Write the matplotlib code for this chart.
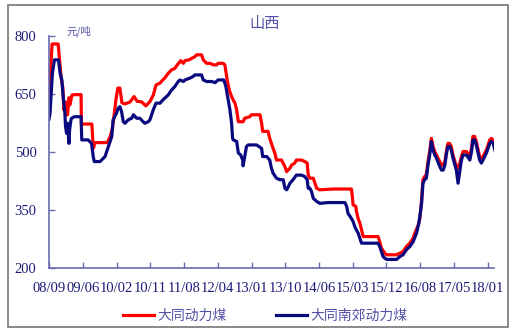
import matplotlib
matplotlib.use("Agg")
import matplotlib.pyplot as plt
from matplotlib.patches import Rectangle

# x 轴按刻度序号计（每个刻度间隔相同）
tick_labels = ["08/09", "09/06", "10/02", "10/11", "11/08", "12/04", "13/01",
               "13/10", "14/06", "15/03", "15/12", "16/08", "17/05", "18/01"]

datong_x = [0.00, 0.09, 0.27, 0.36, 0.41, 0.44, 0.49, 0.52, 0.55, 0.59, 0.62, 0.68,
            0.77, 0.95, 0.96, 1.27, 1.30, 1.32, 1.36, 1.72, 1.81, 1.87, 1.92, 1.98,
            2.04, 2.10, 2.16, 2.25, 2.40, 2.52, 2.61, 2.75, 2.87, 2.99, 3.09, 3.17,
            3.29, 3.37, 3.43, 3.53, 3.63, 3.73, 3.80, 3.86, 3.90, 3.98, 4.03, 4.15,
            4.23, 4.32, 4.37, 4.52, 4.57, 4.67, 4.77, 4.87, 4.97, 5.01, 5.16, 5.21,
            5.28, 5.34, 5.41, 5.46, 5.51, 5.56, 5.61, 5.75, 5.80, 5.95, 6.00, 6.25,
            6.30, 6.33, 6.49, 6.54, 6.59, 6.64, 6.69, 6.74, 6.89, 6.99, 7.04, 7.14,
            7.19, 7.28, 7.33, 7.48, 7.58, 7.65, 7.68, 7.73, 7.83, 7.88, 7.93, 8.02,
            8.42, 8.96, 8.99, 9.01, 9.09, 9.11, 9.16, 9.21, 9.26, 9.31, 9.75, 9.80,
            9.85, 9.95, 10.00, 10.30, 10.39, 10.49, 10.59, 10.69, 10.79, 10.84, 10.94,
            10.99, 11.04, 11.08, 11.13, 11.18, 11.23, 11.28, 11.33, 11.38, 11.43,
            11.48, 11.58, 11.63, 11.68, 11.73, 11.78, 11.82, 11.87, 11.92, 11.97,
            12.07, 12.12, 12.17, 12.22, 12.27, 12.37, 12.47, 12.52, 12.56, 12.61,
            12.66, 12.76, 12.81, 12.86, 12.96, 13.06, 13.11, 13.16, 13.21]
datong = [634, 779, 779, 691, 665, 609, 629, 596, 596, 640, 622, 647,
          648, 648, 572, 572, 524, 510, 524, 524, 539, 557, 588, 634,
          665, 665, 627, 624, 629, 643, 631, 629, 619, 630, 647, 673,
          678, 686, 691, 703, 712, 716, 725, 731, 736, 729, 736, 738,
          742, 746, 751, 751, 738, 729, 729, 725, 725, 729, 729, 725,
          686, 660, 643, 634, 626, 609, 578, 578, 587, 591, 596, 596,
          574, 553, 553, 535, 522, 509, 497, 479, 479, 462, 449, 458,
          466, 471, 479, 479, 475, 471, 440, 432, 432, 419, 406, 402,
          404, 404, 384, 363, 359, 346, 328, 316, 298, 281, 281, 268,
          251, 238, 234, 234, 238, 242, 255, 264, 277, 290, 311,
          328, 376, 428, 436, 441, 475, 501, 535, 514, 501,
          492, 475, 466, 466, 475, 505, 522, 522, 514, 492,
          462, 458, 470, 488, 501, 501, 488, 510, 540, 540,
          527, 488, 479, 488, 505, 531, 535, 531, 518]

nanjiao_x = [0.00, 0.03, 0.10, 0.16, 0.28, 0.33, 0.38, 0.42, 0.47, 0.49, 0.52, 0.55,
             0.57, 0.59, 0.61, 0.65, 0.67, 0.75, 0.95, 0.97, 1.16, 1.26, 1.31, 1.34,
             1.51, 1.56, 1.66, 1.76, 1.86, 1.90, 2.00, 2.05, 2.10, 2.15, 2.20, 2.25,
             2.35, 2.45, 2.50, 2.60, 2.69, 2.79, 2.84, 2.94, 2.99, 3.09, 3.17, 3.29,
             3.37, 3.43, 3.53, 3.63, 3.73, 3.83, 3.88, 3.98, 4.03, 4.18, 4.27, 4.32,
             4.52, 4.57, 4.67, 4.82, 4.92, 5.01, 5.18, 5.24, 5.31, 5.36, 5.41, 5.44,
             5.46, 5.56, 5.61, 5.68, 5.74, 5.75, 5.80, 5.85, 5.90, 6.15, 6.30, 6.33,
             6.45, 6.54, 6.59, 6.64, 6.74, 6.84, 6.94, 6.99, 7.04, 7.09, 7.14, 7.23,
             7.33, 7.48, 7.58, 7.65, 7.68, 7.73, 7.78, 7.83, 7.93, 8.02, 8.27, 8.77,
             8.82, 8.86, 8.96, 9.01, 9.06, 9.11, 9.16, 9.21, 9.26, 9.75, 9.80, 9.85,
             9.90, 10.00, 10.30, 10.39, 10.49, 10.59, 10.69, 10.79, 10.89, 10.96,
             11.04, 11.08, 11.13, 11.18, 11.23, 11.28, 11.33, 11.38, 11.43, 11.48,
             11.58, 11.63, 11.68, 11.73, 11.78, 11.82, 11.87, 11.92, 11.97, 12.07,
             12.12, 12.17, 12.22, 12.27, 12.37, 12.47, 12.52, 12.56, 12.61, 12.66,
             12.76, 12.81, 12.86, 12.96, 13.06, 13.11, 13.16, 13.21]
nanjiao = [585, 600, 703, 738, 738, 703, 686, 643, 600, 565, 548, 574,
           548, 522, 557, 583, 587, 591, 591, 531, 531, 522, 488, 475,
           475, 479, 488, 514, 540, 583, 600, 613, 617, 604, 578, 574,
           583, 587, 596, 587, 587, 578, 574, 578, 583, 609, 626, 626,
           634, 639, 647, 660, 669, 682, 686, 682, 686, 691, 695, 699,
           699, 686, 682, 682, 679, 686, 686, 669, 634, 609, 574, 535,
           531, 527, 497, 492, 479, 464, 488, 514, 518, 518, 509, 488,
           488, 479, 458, 445, 432, 428, 428, 406, 402, 410, 419, 428,
           440, 440, 436, 428, 406, 406, 397, 380, 372, 367, 369, 369,
           359, 341, 328, 320, 307, 298, 290, 277, 264, 264, 255, 242,
           229, 222, 222, 229, 234, 247, 255, 268, 290, 316,
           367, 419, 428, 432, 466, 492, 527, 505, 492, 484,
           462, 453, 453, 466, 497, 514, 514, 505, 484, 453,
           419, 449, 479, 492, 492, 479, 501, 531, 531, 518,
           479, 471, 479, 497, 522, 527, 522, 505]

y_ticks = [200, 350, 500, 650, 800]

axis_color = "#6a6aae"
label_color = "#1c1c78"
text_color = "#5252a8"

fig = plt.figure(figsize=(5.16, 3.32), dpi=100)
fig.patches.append(Rectangle((0.0155, 0.015), 0.969, 0.970, transform=fig.transFigure,
                             fill=False, edgecolor="#808080", lw=1.3))

ax = fig.add_axes([0.095, 0.193, 0.862, 0.699])
l1, = ax.plot(datong_x, datong, color="#ff0000", lw=2.3, label="大同动力煤")
l2, = ax.plot(nanjiao_x, nanjiao, color="#0a0a80", lw=2.3, label="大同南郊动力煤")

ax.set_xlim(0, 13.18)
ax.set_ylim(200, 800)
ax.set_xticks(range(len(tick_labels)))
ax.set_xticklabels(tick_labels)
ax.set_yticks(y_ticks)

for s in ["top", "right"]:
    ax.spines[s].set_visible(False)
for s in ["left", "bottom"]:
    ax.spines[s].set_color(axis_color)
    ax.spines[s].set_linewidth(1.2)

ax.tick_params(axis="both", direction="in", length=4, width=1, color=axis_color,
               labelcolor=label_color, labelsize=10.5)
ax.tick_params(axis="x", pad=10)
ax.tick_params(axis="y", pad=9)
for lab in ax.get_xticklabels() + ax.get_yticklabels():
    lab.set_family("Liberation Serif")

fig.text(0.512, 0.930, "山西", ha="center", va="center", color=text_color,
         fontsize=11, family=["Noto Sans CJK SC", "DejaVu Sans"])
ax.text(0.040, 0.995, "元/吨", transform=ax.transAxes, ha="left", va="bottom",
        color=text_color, fontsize=7.5, style="italic",
        family=["Noto Sans CJK SC", "DejaVu Sans"])

leg = fig.legend(handles=[l1, l2], loc="center", bbox_to_anchor=(0.514, 0.048), ncol=2,
                 frameon=False, handlelength=2.2, handletextpad=0.25, columnspacing=3.6,
                 prop={"family": ["Noto Sans CJK SC", "DejaVu Sans"], "size": 10})
for t in leg.get_texts():
    t.set_color(text_color)

fig.savefig("out.png", dpi=100)
